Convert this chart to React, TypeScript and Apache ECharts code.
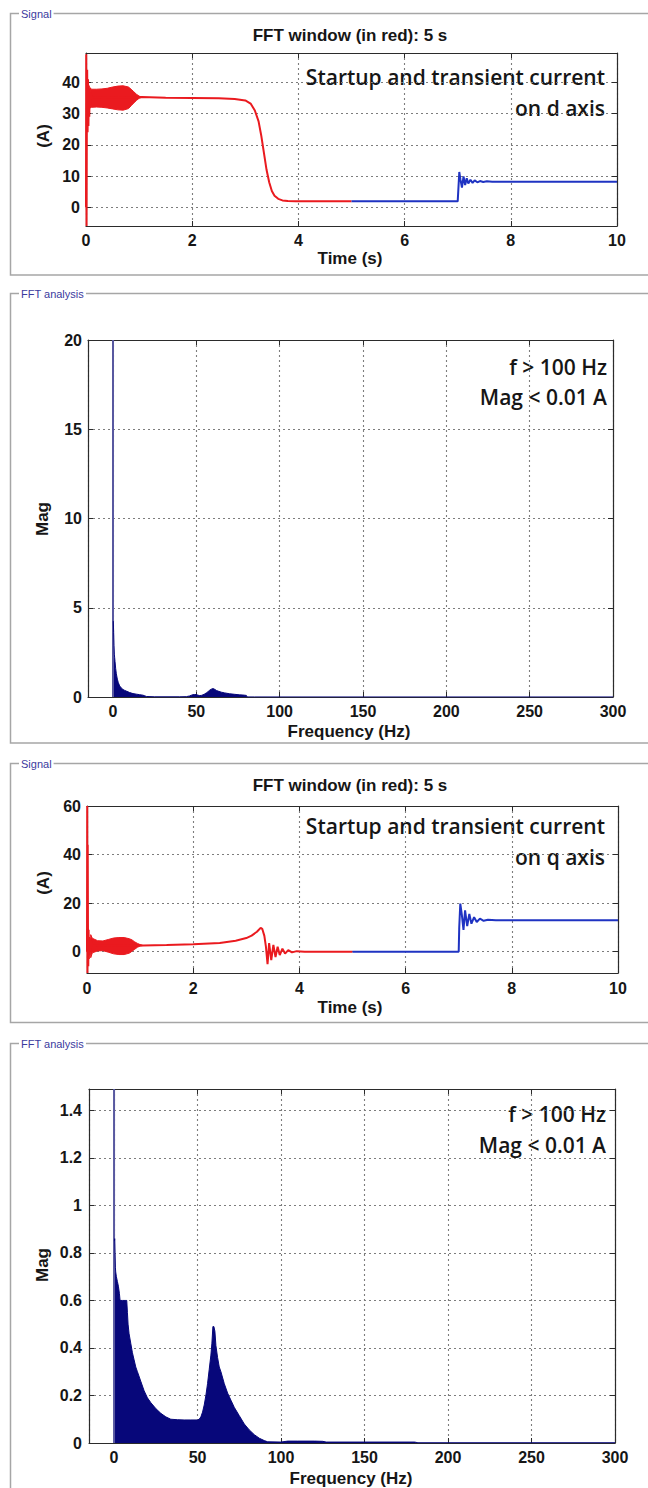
import { useEffect, useRef } from "react";
import * as echarts from "echarts";

// ---------- d-axis current (A) versus time (s) ----------
const dTime = [
  0, 0.004, 0.01, 0.016, 0.022, 0.03, 0.038, 0.046, 0.054, 0.062, 0.07, 0.08, 0.09, 0.1,
  0.5, 1.05, 1.5, 2.0, 2.5, 2.8, 3.0, 3.1, 3.18, 3.25, 3.3, 3.35, 3.4, 3.45, 3.5, 3.55,
  3.62, 3.7, 3.8, 3.95, 4.5, 5.0, 5.5, 6.0, 6.5, 7.0, 7.01, 7.03, 7.05, 7.08, 7.11,
  7.14, 7.17, 7.2, 7.24, 7.28, 7.32, 7.37, 7.42, 7.48, 7.55, 7.65, 7.8, 8.5, 9.0, 10,
];
const dCurrent = [
  0, 49, -6, 30, 44, 24, 41, 26, 39, 29, 38, 32, 37, 35,
  35.2, 35.3, 35.1, 35.0, 34.9, 34.7, 34.2, 33.2, 31, 27.5, 23, 17.5, 12, 8, 5.2, 3.7,
  2.7, 2.2, 2.0, 1.9, 1.9, 1.9, 1.9, 1.9, 1.9, 1.9, 5, 11.3, 9, 6.3, 9.9,
  7.1, 9.3, 7.6, 8.8, 7.8, 8.6, 8.0, 8.4, 8.1, 8.3, 8.2, 8.2, 8.2, 8.2, 8.2,
];
// envelope of the fast start-up oscillation
const dBandTime = [0.08, 0.1, 0.2, 0.3, 0.4, 0.5, 0.6, 0.7, 0.8, 0.85, 0.9, 0.95, 1.0, 1.05];
const dBandUpper = [38.3, 37.8, 37.8, 37.9, 38.1, 38.5, 38.8, 38.9, 38.5, 37.8, 37.0, 36.2, 35.6, 35.3];
const dBandLower = [31.8, 32.0, 32.1, 32.0, 31.8, 31.5, 31.2, 31.1, 31.6, 32.5, 33.4, 34.2, 34.9, 35.2];

// ---------- q-axis current (A) versus time (s) ----------
const qTime = [
  0, 0.004, 0.008, 0.013, 0.018, 0.024, 0.03, 0.036, 0.042, 0.05, 0.06, 0.07, 0.085, 0.1,
  1.05, 1.5, 2.0, 2.5, 2.8, 3.0, 3.1, 3.2, 3.27, 3.3, 3.34, 3.37, 3.4, 3.43, 3.47, 3.51,
  3.55, 3.59, 3.63, 3.68, 3.73, 3.79, 3.86, 3.95, 4.1, 5.0, 6.0, 7.0, 7.01, 7.03, 7.06,
  7.09, 7.12, 7.16, 7.2, 7.24, 7.29, 7.34, 7.4, 7.47, 7.55, 7.7, 8.5, 10,
];
const qCurrent = [
  0, 60, -8.8, 44, 11, -6, 9, -3, 6, -1.5, 5.5, 0, 4.5, 2.7,
  2.5, 2.7, 3.0, 3.6, 4.5, 5.6, 6.6, 8.2, 9.8, 9.4, 6.5, 2, -5.2, 3.5, -3.5, 2.8,
  -2.2, 2.0, -1.4, 1.2, -0.8, 0.6, -0.3, 0.2, 0, 0, 0, 0, 10, 19.8, 15,
  9, 17, 10.5, 15.5, 11.5, 14.2, 12.2, 13.6, 12.7, 13.1, 12.9, 12.9, 12.9,
];
const qBandTime = [0.07, 0.1, 0.2, 0.3, 0.4, 0.5, 0.6, 0.7, 0.8, 0.85, 0.9, 0.95, 1.0, 1.05];
const qBandUpper = [7, 5.5, 4.5, 4.4, 5.0, 5.6, 5.8, 5.8, 5.3, 4.8, 4.0, 3.4, 2.9, 2.6];
const qBandLower = [-2.5, -0.5, 0.3, 0.4, -0.2, -0.9, -1.2, -1.2, -0.6, 0.2, 1.0, 1.8, 2.3, 2.5];

// ---------- FFT of the d-axis current ----------
const dDcMag = 20;
const dFreq = [
  0.2, 0.4, 0.6, 0.8, 1.0, 1.2, 1.6, 2.0, 2.6, 3.2, 4.0, 5.0, 6.0, 7.0, 8.0, 10, 12, 14, 16,
  18, 19, 20, 25, 30, 40, 44, 46, 47, 48, 49, 50, 51, 52, 53, 54, 55, 56, 57, 58, 59, 60,
  61, 62, 63, 65, 67, 70, 73, 76, 78, 80, 80.6, 85, 100, 150, 200, 250, 300,
];
const dMag = [
  4.25, 3.6, 2.9, 2.4, 2.2, 2.0, 1.6, 1.3, 1.0, 0.8, 0.62, 0.5, 0.42, 0.37, 0.33, 0.25, 0.19, 0.16, 0.13,
  0.1, 0.07, 0.03, 0.01, 0.01, 0.01, 0.02, 0.06, 0.1, 0.13, 0.14, 0.14, 0.1, 0.08, 0.09, 0.12, 0.17, 0.23, 0.3, 0.38, 0.44, 0.47,
  0.43, 0.37, 0.33, 0.27, 0.23, 0.18, 0.15, 0.12, 0.11, 0.09, 0.005, 0.003, 0.002, 0.001, 0.001, 0.001, 0.001,
];

// ---------- FFT of the q-axis current ----------
const qDcMag = 1.49;
const qFreq = [
  0.2, 0.4, 0.6, 0.8, 1.0, 1.4, 2.0, 2.6, 3.2, 3.6, 4, 5, 6, 7, 7.6, 8.0, 8.4, 9, 10, 11, 12,
  13, 14, 16, 18, 20, 22, 25, 28, 31, 34, 38, 42, 46, 50, 51, 52, 53, 54, 55, 56, 57, 58,
  58.6, 59.2, 59.8, 60.4, 61, 62, 63, 64, 66, 68, 70, 72, 75, 78, 81, 84, 87, 90, 92, 100,
  104, 110, 120, 125, 127, 150, 180, 182, 200, 300,
];
const qMag = [
  0.85, 0.86, 0.8, 0.74, 0.72, 0.7, 0.68, 0.66, 0.63, 0.6, 0.6, 0.6, 0.6, 0.6, 0.6, 0.55, 0.5, 0.46, 0.42, 0.38, 0.35,
  0.32, 0.3, 0.26, 0.22, 0.19, 0.17, 0.145, 0.125, 0.11, 0.1, 0.098, 0.097, 0.097, 0.097, 0.1, 0.11, 0.13, 0.16, 0.2, 0.25, 0.31, 0.37,
  0.42, 0.49, 0.49, 0.47, 0.41, 0.36, 0.32, 0.3, 0.25, 0.21, 0.18, 0.15, 0.115, 0.08, 0.055, 0.035, 0.02, 0.01, 0.005, 0.004,
  0.008, 0.008, 0.008, 0.007, 0.004, 0.004, 0.004, 0.001, 0.001, 0.001,
];

// ---------- tick labels ----------
const timeTicks = [0, 2, 4, 6, 8, 10];
const freqTicks = [0, 50, 100, 150, 200, 250, 300];
const dTicks = [0, 10, 20, 30, 40];
const qTicks = [0, 20, 40, 60];
const dMagTicks = [0, 5, 10, 15, 20];
const qMagTicks = [0, 0.2, 0.4, 0.6, 0.8, 1, 1.2, 1.4];

const FFT_WINDOW_END = 5; // s, drawn in red

const RED = "#ea1a1f";
const BLUE = "#1f33c2";
const NAVY = "#07077a";
const DC_COLOR = "#5858a0";
const INK = "#161616";
const AXIS_FONT = '"Liberation Sans", Arial, sans-serif';
const NOTE_FONT = '"Open Sans", sans-serif';

const grids = [
  { left: 86, top: 53, width: 531, height: 173 },
  { left: 88, top: 340, width: 525, height: 357 },
  { left: 87, top: 806, width: 531, height: 167 },
  { left: 89, top: 1089, width: 526, height: 354 },
];

const pairs = (xs: number[], ys: number[]) => xs.map((x, i) => [x, ys[i]]);

function splitAtWindow(time: number[], value: number[]) {
  const inside: number[][] = [];
  const outside: number[][] = [];
  time.forEach((t, i) => {
    if (t <= FFT_WINDOW_END) inside.push([t, value[i]]);
    if (t >= FFT_WINDOW_END) outside.push([t, value[i]]);
  });
  return [inside, outside];
}

const onTicks = (ticks: number[]) => (v: number) =>
  ticks.some((t) => Math.abs(t - v) < 1e-6) ? String(Math.round(v * 1000) / 1000) : "";

const axisLineStyle = { color: "#2b2b2b", width: 1.2 };
const tickStyle = { show: true, inside: true, length: 5, lineStyle: { color: "#2b2b2b", width: 1 } };
const gridLineStyle = { color: "#7d7d7d", width: 1.1, type: [2, 3] as number[] };
const tickFont = { fontFamily: AXIS_FONT, fontSize: 16, fontWeight: "bold" as const, color: INK };

function xPair(g: number, range: any, ticks: number[], margin: number) {
  return [
    {
      type: "value", gridIndex: g, position: "bottom", ...range,
      axisLine: { show: true, onZero: false, lineStyle: axisLineStyle },
      axisTick: tickStyle,
      axisLabel: { ...tickFont, margin, formatter: onTicks(ticks), showMinLabel: ticks[0] === range.min, showMaxLabel: true },
      splitLine: { show: true, lineStyle: gridLineStyle },
    },
    {
      type: "value", gridIndex: g, position: "top", ...range,
      axisLine: { show: true, onZero: false, lineStyle: axisLineStyle },
      axisTick: tickStyle,
      axisLabel: { show: false },
      splitLine: { show: false },
    },
  ];
}

function yPair(g: number, range: any, ticks: number[], margin: number) {
  return [
    {
      type: "value", gridIndex: g, position: "left", ...range,
      axisLine: { show: true, onZero: false, lineStyle: axisLineStyle },
      axisTick: tickStyle,
      axisLabel: { ...tickFont, margin, formatter: onTicks(ticks) },
      splitLine: { show: true, lineStyle: gridLineStyle },
    },
    {
      type: "value", gridIndex: g, position: "right", ...range,
      axisLine: { show: true, onZero: false, lineStyle: axisLineStyle },
      axisTick: tickStyle,
      axisLabel: { show: false },
      splitLine: { show: false },
    },
  ];
}

// filled envelope of the start-up ripple, drawn through the axis scales
function bandSeries(g: number, time: number[], upper: number[], lower: number[]) {
  return {
    type: "custom",
    coordinateSystem: "cartesian2d",
    xAxisIndex: 2 * g,
    yAxisIndex: 2 * g,
    data: [[time[0], upper[0]]],
    encode: { x: 0, y: 1 },
    z: 2,
    renderItem: (params: any, api: any) => {
      if (params.dataIndex !== 0) return null;
      const top = time.map((t, i) => api.coord([t, upper[i]]));
      const bottom = time.map((t, i) => api.coord([t, lower[i]])).reverse();
      return {
        type: "polygon",
        shape: { points: top.concat(bottom) },
        style: { fill: RED, stroke: RED, lineWidth: 1 },
      };
    },
  };
}

function signalSeries(g: number, time: number[], value: number[]) {
  const [inside, outside] = splitAtWindow(time, value);
  const base = { type: "line", xAxisIndex: 2 * g, yAxisIndex: 2 * g, symbol: "none", z: 3 };
  return [
    { ...base, data: inside, lineStyle: { color: RED, width: 2 } },
    { ...base, data: outside, lineStyle: { color: BLUE, width: 2 } },
  ];
}

function spectrumSeries(g: number, freq: number[], mag: number[], dc: number) {
  return [
    {
      type: "line", xAxisIndex: 2 * g, yAxisIndex: 2 * g, symbol: "none", z: 3,
      data: pairs(freq, mag),
      lineStyle: { color: NAVY, width: 1 },
      areaStyle: { color: NAVY, opacity: 1 },
    },
    {
      type: "bar", xAxisIndex: 2 * g, yAxisIndex: 2 * g, z: 3,
      data: [[0, dc]], barWidth: 2,
      itemStyle: { color: DC_COLOR },
    },
  ];
}

const txt = (text: string, x: number, y: number, font: string, fill = INK, align = "center", extra: any = {}) => ({
  type: "text",
  x, y,
  ...extra,
  style: { text, x: 0, y: 0, font, fill, align, verticalAlign: "middle", textAlign: align, textVerticalAlign: "middle", ...(extra.style || {}) },
});

const frame = (y: number, h: number, label: string) => [
  {
    type: "rect",
    shape: { x: 10.5, y, width: 700, height: h },
    style: { fill: "none", stroke: "#a6a6a6", lineWidth: 1.5 },
  },
  {
    type: "text",
    x: 19, y: y + 0.5,
    style: {
      text: label, x: 0, y: 0, font: `11px ${AXIS_FONT}`, fill: "#3b3b9e",
      align: "left", verticalAlign: "middle", textAlign: "left", textVerticalAlign: "middle",
      backgroundColor: "#ffffff", padding: [1, 2],
    },
  },
];

const NAME_FONT = `bold 17px ${AXIS_FONT}`;
const TITLE_FONT = `bold 17px ${AXIS_FONT}`;
const NOTE = `600 21px ${NOTE_FONT}`;

export default function App() {
  const ref = useRef<HTMLDivElement>(null);

  useEffect(() => {
    if (!ref.current) return;
    const chart = echarts.init(ref.current, undefined, { renderer: "svg" });

    const timeRange = { min: 0, max: 10, interval: 2 };
    const freqRange = { min: -15, max: 300, splitNumber: 6 };

    const xAxis = [
      ...xPair(0, timeRange, timeTicks, 6),
      ...xPair(1, freqRange, freqTicks, 6),
      ...xPair(2, timeRange, timeTicks, 7),
      ...xPair(3, freqRange, freqTicks, 6),
    ];
    const yAxis = [
      ...yPair(0, { min: -6, max: 49.4, splitNumber: 5 }, dTicks, 6),
      ...yPair(1, { min: 0, max: 20, interval: 5 }, dMagTicks, 6),
      ...yPair(2, { min: -8.8, max: 60, splitNumber: 4 }, qTicks, 6),
      ...yPair(3, { min: 0, max: 1.49, interval: 0.2 }, qMagTicks, 7),
    ];

    const graphics = [
      ...frame(13.5, 261.5, "Signal"),
      ...frame(293.5, 449.5, "FFT analysis"),
      ...frame(763.5, 259, "Signal"),
      ...frame(1043.5, 500, "FFT analysis"),
      // panel titles
      txt("FFT window (in red): 5 s", 350, 35, TITLE_FONT),
      txt("FFT window (in red): 5 s", 350, 785, TITLE_FONT),
      // axis names
      txt("Time (s)", 350, 258, NAME_FONT),
      txt("Frequency (Hz)", 349, 731.5, NAME_FONT),
      txt("Time (s)", 350, 1007, NAME_FONT),
      txt("Frequency (Hz)", 351, 1478, NAME_FONT),
      txt("(A)", 43, 136, NAME_FONT, INK, "center", { rotation: Math.PI / 2 }),
      txt("Mag", 42, 519, NAME_FONT, INK, "center", { rotation: Math.PI / 2 }),
      txt("(A)", 43, 883, NAME_FONT, INK, "center", { rotation: Math.PI / 2 }),
      txt("Mag", 42, 1265, NAME_FONT, INK, "center", { rotation: Math.PI / 2 }),
      // notes inside the plots
      txt("Startup and transient current", 605, 77, NOTE, INK, "right"),
      txt("on d axis", 605, 108, NOTE, INK, "right"),
      txt("f > 100 Hz", 607, 367, NOTE, INK, "right"),
      txt("Mag < 0.01 A", 607, 397, NOTE, INK, "right"),
      txt("Startup and transient current", 605, 826, NOTE, INK, "right"),
      txt("on q axis", 605, 857, NOTE, INK, "right"),
      txt("f > 100 Hz", 606, 1114, NOTE, INK, "right"),
      txt("Mag < 0.01 A", 606, 1145, NOTE, INK, "right"),
    ];

    chart.setOption({
      animation: false,
      backgroundColor: "#ffffff",
      grid: grids.map((g) => ({ ...g, containLabel: false })),
      xAxis,
      yAxis,
      series: [
        bandSeries(0, dBandTime, dBandUpper, dBandLower),
        ...signalSeries(0, dTime, dCurrent),
        ...spectrumSeries(1, dFreq, dMag, dDcMag),
        bandSeries(2, qBandTime, qBandUpper, qBandLower),
        ...signalSeries(2, qTime, qCurrent),
        ...spectrumSeries(3, qFreq, qMag, qDcMag),
      ],
      graphic: { elements: graphics },
    });

    return () => chart.dispose();
  }, []);

  return (
    <div
      ref={ref}
      style={{ position: "absolute", left: 0, top: 0, width: 648, height: 1488, background: "#fff" }}
    />
  );
}
